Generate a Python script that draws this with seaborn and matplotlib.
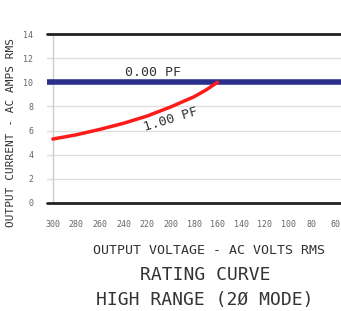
import matplotlib as mpl
mpl.use('Agg')
import matplotlib.pyplot as plt
import seaborn as sns
import pandas as pd

sns.set_style('white')
plt.rcParams['font.family'] = ['DejaVu Sans Mono', 'DejaVu Sans']

# data
volts = [300, 280, 260, 240, 220, 200, 180, 170, 160]
amps_pf1 = [5.3, 5.65, 6.1, 6.6, 7.2, 7.95, 8.8, 9.35, 10.0]
volts_pf0 = [305, 55]
amps_pf0 = [10.0, 10.0]
xticks = [300, 280, 260, 240, 220, 200, 180, 160, 140, 120, 100, 80, 60]
yticks = [0, 2, 4, 6, 8, 10, 12, 14]

df1 = pd.DataFrame({'volts': volts, 'amps': amps_pf1})
df0 = pd.DataFrame({'volts': volts_pf0, 'amps': amps_pf0})

fig = plt.figure(figsize=(3.41, 3.11), dpi=100)
ax = fig.add_axes([47/341, 1-203/311, 1-47/341, (203-34)/311])

grey = '#666666'
for y in yticks[1:-1]:
    ax.axhline(y, color='#dddddd', lw=1, zorder=0)
ax.axhline(0, color='#222222', lw=2, clip_on=False, zorder=3)
ax.axhline(14, color='#222222', lw=2, clip_on=False, zorder=3)
ax.axvline(300, color='#cccccc', lw=1, zorder=0)

sns.lineplot(data=df0, x='volts', y='amps', ax=ax, color='#2b2f8c', lw=4, zorder=4)
sns.lineplot(data=df1, x='volts', y='amps', ax=ax, color='#ff1a1a', lw=2.5, zorder=5)

ax.set_xlim(305, 55)
ax.set_ylim(0, 14)
ax.set_xticks(xticks)
ax.set_yticks(yticks)
ax.tick_params(axis='both', length=0, labelsize=6, labelcolor=grey)
ax.tick_params(axis='x', pad=12)
ax.tick_params(axis='y', pad=10)
for s in ax.spines.values():
    s.set_visible(False)

ax.set_xlabel('OUTPUT VOLTAGE - AC VOLTS RMS', fontsize=9.5, color='#333333')
ax.xaxis.set_label_coords(0.55, -0.24)
ax.set_ylabel('OUTPUT CURRENT - AC AMPS RMS', fontsize=8, color='#333333')
ax.yaxis.set_label_coords(-0.105, 0.42)

ax.text(215, 10.8, '0.00 PF', fontsize=9.5, color='#333333', ha='center', va='center')
ax.text(200, 6.9, '1.00 PF', fontsize=9.5, color='#333333', ha='center', va='center', rotation=17)

fig.text(205/341, 1-275/311, 'RATING CURVE', fontsize=13, color='#333333', ha='center', va='center')
fig.text(205/341, 1-300/311, 'HIGH RANGE (2Ø MODE)', fontsize=13, color='#333333', ha='center', va='center')

fig.savefig('out.png', dpi=100)
